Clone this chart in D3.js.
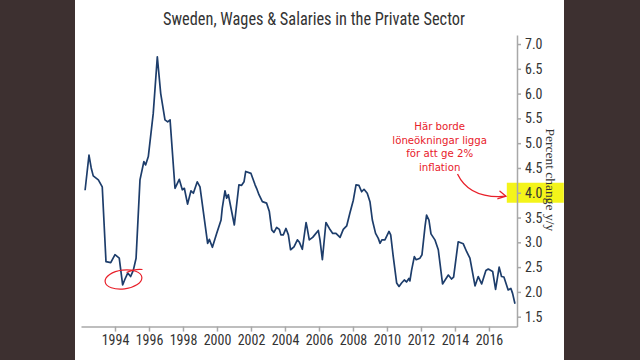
<!DOCTYPE html>
<html><head><meta charset="utf-8">
<script src="https://cdn.jsdelivr.net/npm/d3@7"></script>
<style>html,body{margin:0;padding:0;background:#3d3030;}svg{display:block;}</style>
</head><body>
<svg id="c" width="640" height="360"></svg>
<script>
const title = "Sweden, Wages & Salaries in the Private Sector";
const yTitle = "Percent change y/y";
const xTickValues = [1994,1996,1998,2000,2002,2004,2006,2008,2010,2012,2014,2016];
const yTickValues = [1.5,2.0,2.5,3.0,3.5,4.0,4.5,5.0,5.5,6.0,6.5,7.0];
const noteLines = ["Här borde","löneökningar ligga","för att ge 2%","inflation"];
const years = [1992.24,1992.47,1992.60,1992.72,1993.02,1993.25,1993.47,1993.75,1994.00,1994.25,1994.45,1994.59,1994.75,1994.92,1995.08,1995.24,1995.47,1995.70,1995.80,1995.96,1996.25,1996.49,1996.69,1996.94,1997.10,1997.24,1997.53,1997.78,1997.96,1998.08,1998.27,1998.47,1998.61,1998.84,1999.00,1999.45,1999.55,1999.73,1999.98,2000.24,2000.31,2000.47,2000.57,2000.67,2001.02,2001.29,2001.45,2001.59,2001.69,2002.00,2002.24,2002.33,2002.47,2002.67,2002.92,2003.08,2003.22,2003.35,2003.51,2003.67,2003.76,2003.90,2004.06,2004.20,2004.33,2004.53,2004.73,2004.85,2005.02,2005.24,2005.30,2005.43,2005.63,2005.75,2005.96,2006.06,2006.20,2006.41,2006.61,2006.81,2007.00,2007.24,2007.43,2007.63,2007.82,2008.02,2008.18,2008.35,2008.51,2008.65,2008.84,2009.00,2009.14,2009.33,2009.49,2009.59,2009.70,2009.88,2010.12,2010.22,2010.37,2010.57,2010.71,2010.86,2011.02,2011.15,2011.29,2011.35,2011.45,2011.61,2011.72,2011.94,2012.06,2012.24,2012.33,2012.47,2012.59,2012.82,2013.02,2013.27,2013.61,2013.80,2013.92,2014.19,2014.49,2014.69,2014.88,2015.18,2015.37,2015.57,2015.82,2015.96,2016.22,2016.39,2016.60,2016.74,2016.88,2017.13,2017.29,2017.39,2017.53];
const rates = [4.05,4.76,4.50,4.34,4.26,4.12,2.61,2.59,2.75,2.68,2.14,2.26,2.38,2.31,2.44,2.68,4.26,4.63,4.56,4.73,5.60,6.74,6.00,5.47,5.43,5.47,4.09,4.27,4.06,4.09,3.77,4.04,3.99,4.22,4.12,2.98,3.06,2.90,3.18,3.45,3.69,4.04,3.89,3.96,3.35,4.16,4.15,4.22,4.43,4.39,4.16,4.09,3.96,3.82,3.79,3.62,3.25,3.20,3.30,3.26,3.15,3.15,3.28,3.15,2.85,2.91,3.05,3.00,2.86,3.40,3.30,3.05,3.10,3.15,3.24,3.05,2.65,3.40,3.28,3.18,3.18,3.10,3.26,3.33,3.59,3.85,4.16,4.15,4.02,4.07,3.99,3.82,3.45,3.18,3.08,2.98,3.05,3.05,3.22,3.15,2.71,2.18,2.11,2.18,2.24,2.20,2.27,2.22,2.44,2.71,2.65,2.68,2.75,3.32,3.55,3.45,3.17,3.05,2.85,2.16,2.34,2.26,2.30,3.01,2.97,2.81,2.68,2.12,2.31,2.16,2.43,2.46,2.41,2.05,2.50,2.31,2.30,2.04,2.07,1.97,1.76];

const data = years.map((t,i)=>({t, v: rates[i]}));
const svg = d3.select("#c");
svg.append("rect").attr("width",640).attr("height",360).attr("fill","#3d3030");
svg.append("rect").attr("x",75).attr("y",0).attr("width",489).attr("height",360).attr("fill","#ffffff");

const x = d3.scaleLinear().domain([1992, 2017.65]).range([81, 517]);
const y = d3.scaleLinear().domain([1.3, 7.18]).range([326.6, 35.1]);
const tickFont = "'Liberation Sans Narrow', 'Roboto Condensed', 'Lato', sans-serif";

svg.append("text").attr("x",314).attr("y",25).attr("text-anchor","middle")
  .attr("font-family",tickFont).attr("font-size",17.5).attr("fill","#333")
  .attr("textLength",302).attr("lengthAdjust","spacingAndGlyphs").text(title);

// highlight behind 4.0 label
svg.append("rect").attr("x",x(2017.05)).attr("y",y(4.0)-10).attr("width",57).attr("height",20)
  .attr("fill","#f4f41a");

const xa = svg.append("g").attr("transform",`translate(0,${y(1.3)})`)
  .call(d3.axisBottom(x).tickValues(xTickValues).tickFormat(d3.format("d")).tickSize(5).tickSizeOuter(0).tickPadding(3));
const ya = svg.append("g").attr("transform",`translate(${x(2017.65)},0)`)
  .call(d3.axisRight(y).tickValues(yTickValues).tickFormat(d3.format(".1f")).tickSize(4).tickSizeOuter(0).tickPadding(4));
[xa,ya].forEach(a=>{
  a.selectAll("path,line").attr("stroke","#a8a8a8").attr("stroke-width",1.5);
  a.selectAll("text").attr("font-family",tickFont).attr("font-size",14).attr("fill","#333");
});

svg.append("text").attr("transform",`translate(${x(2017.65)+29},${y(4.26)}) rotate(90)`)
  .attr("text-anchor","middle").attr("font-family","'Liberation Serif', serif").attr("font-size",13.5)
  .attr("fill","#333").text(yTitle);

svg.append("path").datum(data)
  .attr("d", d3.line().x(d=>x(d.t)).y(d=>y(d.v)))
  .attr("fill","none").attr("stroke","#1d3d6b").attr("stroke-width",1.7).attr("stroke-linejoin","round");

// annotations
const red = "#e8202a";
const nx = x(2013.1);
noteLines.forEach((s,i)=>{
  svg.append("text").attr("x",nx).attr("y",y(5.27)+i*13.8).attr("text-anchor","middle")
    .attr("font-family","'DejaVu Sans',sans-serif").attr("font-size",10.2)
    .attr("fill",red).text(s);
});
const ax0 = x(2014.15), ay0 = y(4.38), ax1 = x(2017.0), ay1 = y(3.93);
svg.append("path").attr("d",`M${ax0},${ay0} Q${ax0+12},${ay1+3} ${ax1},${ay1}`)
  .attr("fill","none").attr("stroke",red).attr("stroke-width",1.3);
svg.append("path").attr("d",`M${ax1-6},${ay1-5} L${ax1},${ay1} L${ax1-8},${ay1+2.5}`)
  .attr("fill","none").attr("stroke",red).attr("stroke-width",1.3).attr("stroke-linecap","round");
const cx = x(1994.5), cy = y(2.25);
svg.append("ellipse").attr("cx",cx).attr("cy",cy).attr("rx",18.5).attr("ry",9.5)
  .attr("transform",`rotate(-7,${cx},${cy})`).attr("fill","none").attr("stroke",red).attr("stroke-width",1.2);
svg.append("path").attr("d",`M${cx+3},${cy-7} Q${cx+12},${cy-11} ${cx+19},${cy-10}`)
  .attr("fill","none").attr("stroke",red).attr("stroke-width",1.2);
</script>
</body></html>
